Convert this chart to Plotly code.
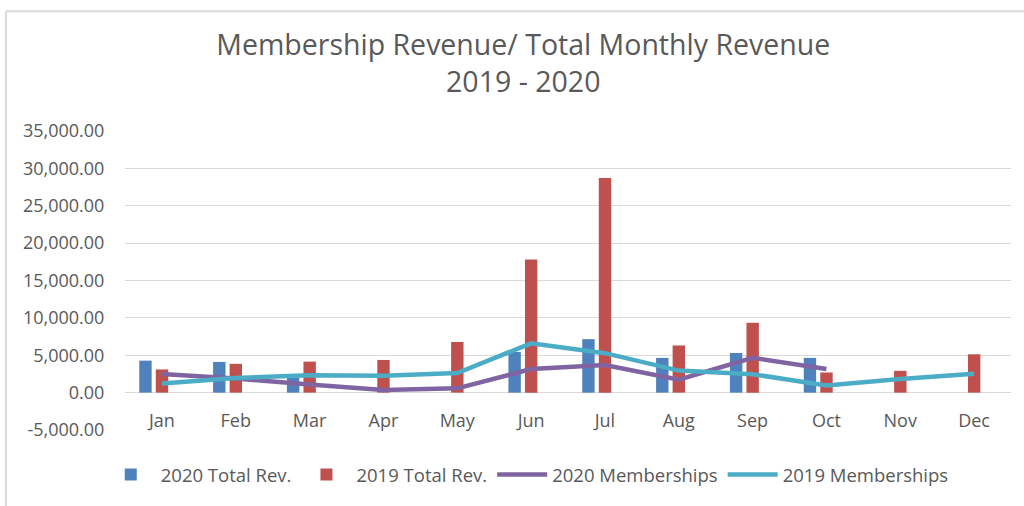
import plotly.graph_objects as go

months = ["Jan", "Feb", "Mar", "Apr", "May", "Jun", "Jul", "Aug", "Sep", "Oct", "Nov", "Dec"]
rev_2020 = [4280, 4110, 2000, None, None, 5450, 7150, 4650, 5300, 4650, None, None]
rev_2019 = [3100, 3850, 4150, 4370, 6770, 17800, 28700, 6310, 9360, 2690, 2910, 5130]
mem_2020 = [2490, 1880, 1100, 350, 570, 3150, 3700, 1730, 4650, 3170, None, None]
mem_2019 = [1230, 1960, 2310, 2270, 2620, 6600, 5280, 2950, 2470, 950, 1810, 2510]
y_ticks = [-5000, 0, 5000, 10000, 15000, 20000, 25000, 30000, 35000]
y_tick_labels = [f"{v:,.2f}" for v in y_ticks]

TEXT = "#595959"
GRID = "#D9D9D9"
FONT = "Open Sans"

Y_MIN, Y_MAX = -5000, 35000

fig = go.Figure()
fig.add_trace(go.Bar(x=months, y=rev_2020, name="2020 Total Rev.",
                     marker=dict(color="#4F81BD", line=dict(width=0)),
                     width=0.168, offset=-0.307))
fig.add_trace(go.Bar(x=months, y=rev_2019, name="2019 Total Rev.",
                     marker=dict(color="#C0504D", line=dict(width=0)),
                     width=0.168, offset=-0.083))
fig.add_trace(go.Scatter(x=months, y=mem_2020, name="2020 Memberships", mode="lines",
                         line=dict(color="#8064A2", width=4.5)))
fig.add_trace(go.Scatter(x=months, y=mem_2019, name="2019 Memberships", mode="lines",
                         line=dict(color="#4BACC6", width=4.5)))

fig.update_layout(
    width=1024, height=506,
    margin=dict(l=125, r=13, t=131, b=72),
    paper_bgcolor="white", plot_bgcolor="white",
    barmode="overlay",
    font=dict(family=FONT, color=TEXT, size=18),
    title=dict(text="Membership Revenue/ Total Monthly Revenue<br>2019 - 2020",
               x=0.511, xanchor="center", xref="container",
               y=1 - 55 / 506, yanchor="top", yref="container",
               font=dict(family=FONT, size=28.5, color=TEXT)),
    showlegend=True,
    legend=dict(orientation="h", x=0.454, xanchor="center", y=-0.15, yanchor="middle",
                font=dict(family=FONT, size=18.5, color=TEXT), itemwidth=50,
                tracegroupgap=0, bgcolor="rgba(0,0,0,0)"),
    xaxis=dict(type="category", showgrid=False, showline=False, zeroline=False,
               anchor="free", position=(0 - Y_MIN) / (Y_MAX - Y_MIN),
               ticks="outside", ticklen=12, tickcolor="rgba(0,0,0,0)",
               tickfont=dict(family=FONT, size=18, color=TEXT), fixedrange=True),
    yaxis=dict(range=[Y_MIN, Y_MAX], tickvals=y_ticks, ticktext=y_tick_labels,
               showgrid=True, gridcolor=GRID, gridwidth=1.3,
               zeroline=True, zerolinecolor=GRID, zerolinewidth=1.3,
               showline=False, ticks="outside", ticklen=16, tickcolor="rgba(0,0,0,0)",
               tickfont=dict(family=FONT, size=18, color=TEXT), fixedrange=True),
    shapes=[
        dict(type="line", xref="paper", yref="paper",
             x0=(6 - 125) / 885.7, x1=1.2, y0=(434 - 7.5) / 304.5, y1=(434 - 7.5) / 304.5,
             line=dict(color=GRID, width=2)),
        dict(type="line", xref="paper", yref="paper",
             x0=(6 - 125) / 885.7, x1=(6 - 125) / 885.7, y0=(434 - 7.5) / 304.5, y1=-0.5,
             line=dict(color=GRID, width=2)),
    ],
)

fig.write_html("out.html", config={"displayModeBar": False},
               post_script="document.body.style.margin='0';document.body.style.overflow='hidden';")
